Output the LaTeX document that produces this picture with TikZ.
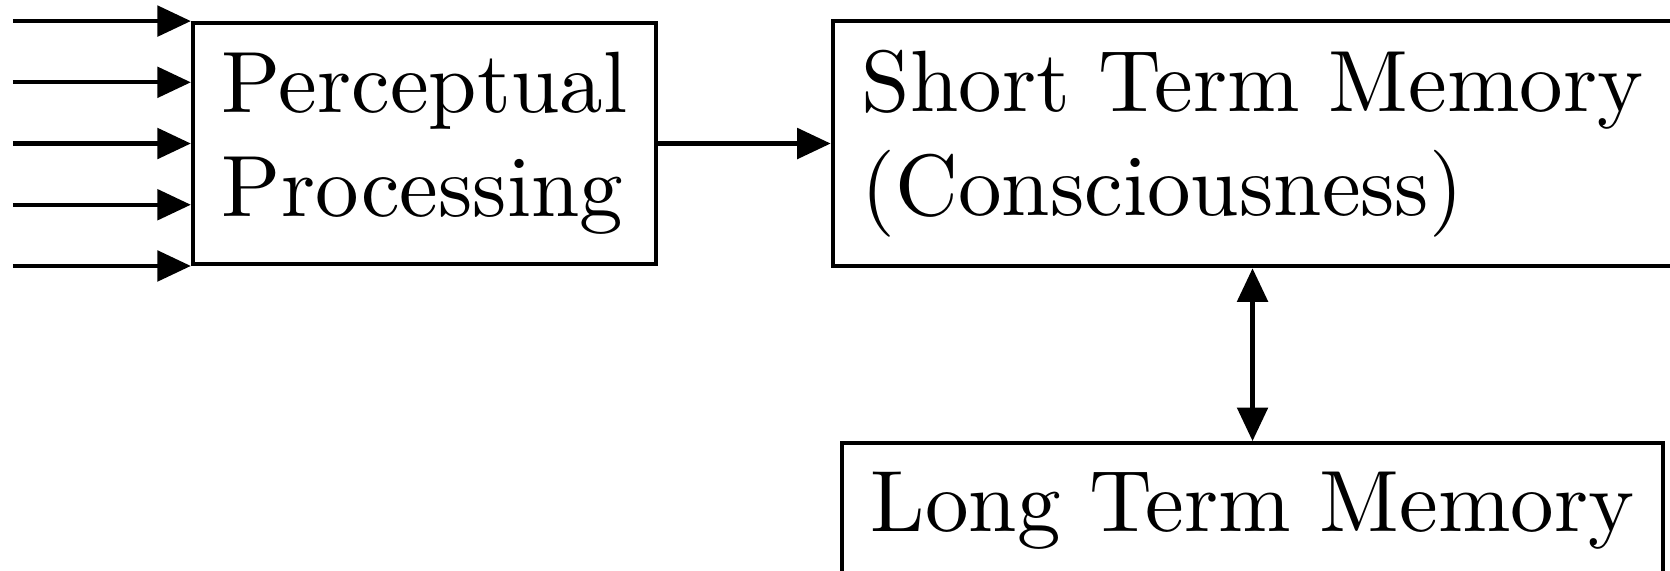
\documentclass[tikz,border=0pt]{standalone}
\usetikzlibrary{arrows.meta,calc}
\begin{document}
\begin{tikzpicture}[x=0.1149pt,y=-0.1149pt,
  box/.style={draw,line width=0.47pt,align=left,font=\fontsize{10}{12}\selectfont},
  arr/.style={line width=0.47pt,-{Triangle[length=3.85pt,width=3.5pt]}},
  darr/.style={line width=0.47pt,{Triangle[length=3.85pt,width=3.5pt]}-{Triangle[length=3.85pt,width=3.5pt]}}]
\useasboundingbox (0,0) rectangle (1670,570);
\node[box] (pp) at (424.5,143.5) {Perceptual\\Processing};
\node[box] (stm) at (1252.5,143.5) {Short Term Memory\\(Consciousness)};
\node[box,anchor=north] (ltm) at (1252.5,441) {Long Term Memory};
\path (pp.north west) ++(-178,0) coordinate (i1);
\path ($(pp.north west)!0.25!(pp.south west)$) coordinate (p2) ++(-178,0) coordinate (i2);
\path ($(pp.north west)!0.5!(pp.south west)$) coordinate (p3) ++(-178,0) coordinate (i3);
\path ($(pp.north west)!0.75!(pp.south west)$) coordinate (p4) ++(-178,0) coordinate (i4);
\path (pp.south west) ++(-178,0) coordinate (i5);
\draw[arr] (i1) -- (pp.north west);
\draw[arr] (i2) -- (p2);
\draw[arr] (i3) -- (p3);
\draw[arr] (i4) -- (p4);
\draw[arr] (i5) -- (pp.south west);
\draw[arr] (pp.east) -- (stm.west);
\draw[darr] (stm.south) -- (ltm.north);
\end{tikzpicture}
\end{document}
